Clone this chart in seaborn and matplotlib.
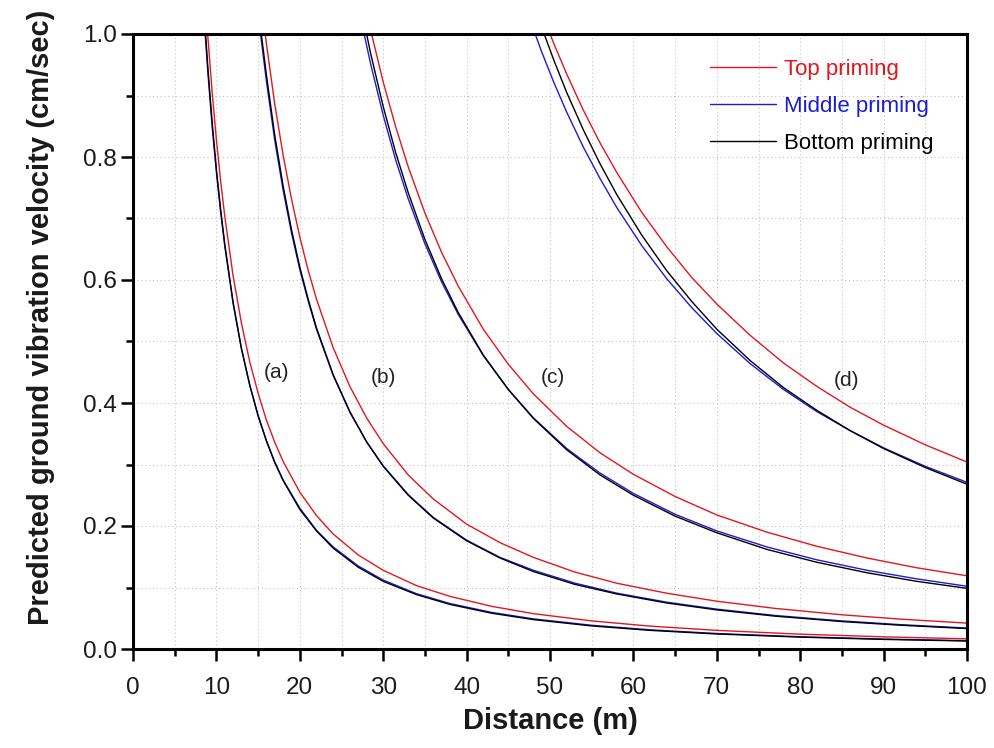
import numpy as np
import pandas as pd
import matplotlib
matplotlib.use("Agg")
import matplotlib.pyplot as plt
from matplotlib.ticker import MultipleLocator, FixedLocator
import seaborn as sns

# ---- data ----
priming = ["Top priming", "Middle priming", "Bottom priming"]
families = ["(a)", "(b)", "(c)", "(d)"]

dist_a = [8.6, 9.0, 9.5, 10, 10.5, 11, 12, 13, 14, 15, 16, 17, 18, 20, 22, 24, 27, 30, 34, 38, 43, 48, 55, 62, 70, 80, 90, 100]
top_a = [1.07, 0.991, 0.904, 0.828, 0.762, 0.704, 0.607, 0.53, 0.467, 0.416, 0.372, 0.336, 0.305, 0.255, 0.217, 0.187, 0.153, 0.128, 0.103, 0.0856, 0.0694, 0.0575, 0.0457, 0.0372, 0.0303, 0.0241, 0.0198, 0.0165]
mid_a = [1.01, 0.933, 0.848, 0.775, 0.711, 0.655, 0.562, 0.488, 0.429, 0.38, 0.339, 0.304, 0.275, 0.229, 0.193, 0.166, 0.135, 0.112, 0.0899, 0.0739, 0.0595, 0.049, 0.0386, 0.0312, 0.0252, 0.0199, 0.0162, 0.0135]
bot_a = [1.02, 0.941, 0.855, 0.78, 0.716, 0.659, 0.564, 0.489, 0.429, 0.379, 0.338, 0.303, 0.274, 0.227, 0.192, 0.164, 0.133, 0.11, 0.0884, 0.0725, 0.0582, 0.0478, 0.0375, 0.0303, 0.0244, 0.0193, 0.0156, 0.013]

dist_b = [15.2, 16, 17, 18, 19, 20, 21, 22, 24, 26, 28, 30, 33, 36, 40, 44, 48, 53, 58, 64, 70, 77, 85, 92, 100]
top_b = [1.07, 0.984, 0.886, 0.803, 0.732, 0.67, 0.616, 0.569, 0.49, 0.427, 0.376, 0.334, 0.283, 0.244, 0.203, 0.173, 0.149, 0.125, 0.107, 0.0907, 0.0777, 0.066, 0.0556, 0.0486, 0.0421]
mid_b = [1.01, 0.923, 0.827, 0.746, 0.677, 0.617, 0.566, 0.52, 0.445, 0.385, 0.337, 0.298, 0.251, 0.214, 0.177, 0.149, 0.128, 0.107, 0.0908, 0.0761, 0.0648, 0.0545, 0.0457, 0.0396, 0.0341]
bot_b = [1.02, 0.933, 0.835, 0.753, 0.682, 0.621, 0.569, 0.522, 0.446, 0.386, 0.337, 0.297, 0.25, 0.213, 0.176, 0.148, 0.126, 0.105, 0.0895, 0.0748, 0.0636, 0.0534, 0.0446, 0.0387, 0.0332]

dist_c = [27.5, 28.5, 30, 31.5, 33, 35, 37, 39, 42, 45, 48, 52, 56, 60, 65, 70, 76, 82, 88, 94, 100]
top_c = [1.069, 1.006, 0.922, 0.849, 0.784, 0.709, 0.645, 0.59, 0.52, 0.463, 0.415, 0.362, 0.319, 0.284, 0.248, 0.218, 0.19, 0.167, 0.148, 0.132, 0.119]
mid_c = [1.013, 0.951, 0.868, 0.795, 0.732, 0.659, 0.597, 0.544, 0.477, 0.422, 0.376, 0.326, 0.286, 0.253, 0.219, 0.192, 0.166, 0.145, 0.128, 0.114, 0.102]
bot_c = [1.033, 0.968, 0.882, 0.807, 0.742, 0.666, 0.602, 0.547, 0.478, 0.422, 0.375, 0.324, 0.283, 0.25, 0.216, 0.189, 0.162, 0.141, 0.124, 0.11, 0.0986]

dist_d = [47.5, 49, 50.5, 52, 54, 56, 58, 61, 64, 67, 70, 74, 78, 82, 86, 90, 95, 100]
top_d = [1.092, 1.035, 0.983, 0.935, 0.876, 0.823, 0.775, 0.71, 0.654, 0.604, 0.561, 0.51, 0.465, 0.427, 0.393, 0.364, 0.332, 0.304]
mid_d = [1.027, 0.971, 0.92, 0.873, 0.816, 0.765, 0.718, 0.656, 0.602, 0.555, 0.513, 0.464, 0.422, 0.386, 0.355, 0.327, 0.297, 0.271]
bot_d = [1.072, 1.011, 0.956, 0.905, 0.844, 0.789, 0.739, 0.673, 0.615, 0.565, 0.52, 0.469, 0.425, 0.388, 0.355, 0.326, 0.295, 0.268]

# panel annotation anchors (data coords)
label_x = [17.15, 30.0, 50.4, 85.5]
label_y = [0.449, 0.442, 0.441, 0.437]

x_ticks = [0, 10, 20, 30, 40, 50, 60, 70, 80, 90, 100]
y_ticks = [0.0, 0.2, 0.4, 0.6, 0.8, 1.0]

# ---- long table ----
series = {
    "(a)": (dist_a, [top_a, mid_a, bot_a]),
    "(b)": (dist_b, [top_b, mid_b, bot_b]),
    "(c)": (dist_c, [top_c, mid_c, bot_c]),
    "(d)": (dist_d, [top_d, mid_d, bot_d]),
}
rows = []
for fam in families:
    xs, ys_list = series[fam]
    for pr, ys in zip(priming, ys_list):
        for xv, yv in zip(xs, ys):
            rows.append({"family": fam, "priming": pr, "distance": xv, "velocity": yv})
df = pd.DataFrame(rows)

# ---- style ----
sns.set_theme(style="white")
plt.rcParams["font.family"] = ["Liberation Sans", "DejaVu Sans"]
plt.rcParams["axes.unicode_minus"] = False

colors = {"Top priming": "#e3161e", "Middle priming": "#1c1cd6", "Bottom priming": "#000000"}

fig = plt.figure(figsize=(9.94, 7.48), dpi=100)
ax = fig.add_axes([133 / 994, 1 - 649 / 748, 834 / 994, 615 / 748])

sns.lineplot(data=df, x="distance", y="velocity", hue="priming", units="family",
             estimator=None, sort=False, palette=colors, hue_order=priming,
             linewidth=1.0, ax=ax)

ax.set_xlim(0, 100)
ax.set_ylim(0, 1.0)
ax.xaxis.set_major_locator(FixedLocator(x_ticks))
ax.xaxis.set_minor_locator(MultipleLocator(5))
ax.yaxis.set_major_locator(FixedLocator(y_ticks))
ax.yaxis.set_minor_locator(MultipleLocator(0.1))
ax.set_xticklabels([str(t) for t in x_ticks])
ax.set_yticklabels([f"{t:.1f}" for t in y_ticks])

ax.set_axisbelow(True)
ax.grid(which="both", linestyle=(0, (1, 2.5)), color="#c4c4c4", linewidth=0.8)

for sp in ax.spines.values():
    sp.set_visible(True)
    sp.set_linewidth(2.2)
    sp.set_color("black")

ax.tick_params(which="major", direction="out", length=8.5, width=1.8, colors="black",
               labelsize=17.5, bottom=True, left=True, top=False, right=False)
ax.tick_params(which="minor", direction="out", length=5, width=1.8, colors="black",
               bottom=True, left=True, top=False, right=False)
ax.tick_params(axis="x", which="major", pad=12)
ax.tick_params(axis="y", which="major", pad=3)
for lab in ax.get_xticklabels() + ax.get_yticklabels():
    lab.set_color("#1a1a1a")

ax.set_xlabel("Distance (m)", fontsize=21, fontweight="bold", color="#1a1a1a")
ax.set_ylabel("Predicted ground vibration velocity (cm/sec)", fontsize=21,
              fontweight="bold", color="#1a1a1a")
ax.xaxis.set_label_coords(0.5, -0.094)
ax.yaxis.set_label_coords(-0.093, 0.54)

for fam, lx, ly in zip(families, label_x, label_y):
    ax.text(lx, ly, fam, fontsize=15, ha="center", va="center", color="#222222")

handles, labels = ax.get_legend_handles_labels()
leg = ax.legend(handles, labels, loc="upper left", bbox_to_anchor=(0.692, 0.959),
                frameon=False, fontsize=16, handlelength=2.97, handletextpad=0.36,
                labelspacing=0.72, borderpad=0, borderaxespad=0, labelcolor="linecolor")
for h in leg.legend_handles:
    h.set_linewidth(1.0)

fig.savefig("out.png", dpi=100)
